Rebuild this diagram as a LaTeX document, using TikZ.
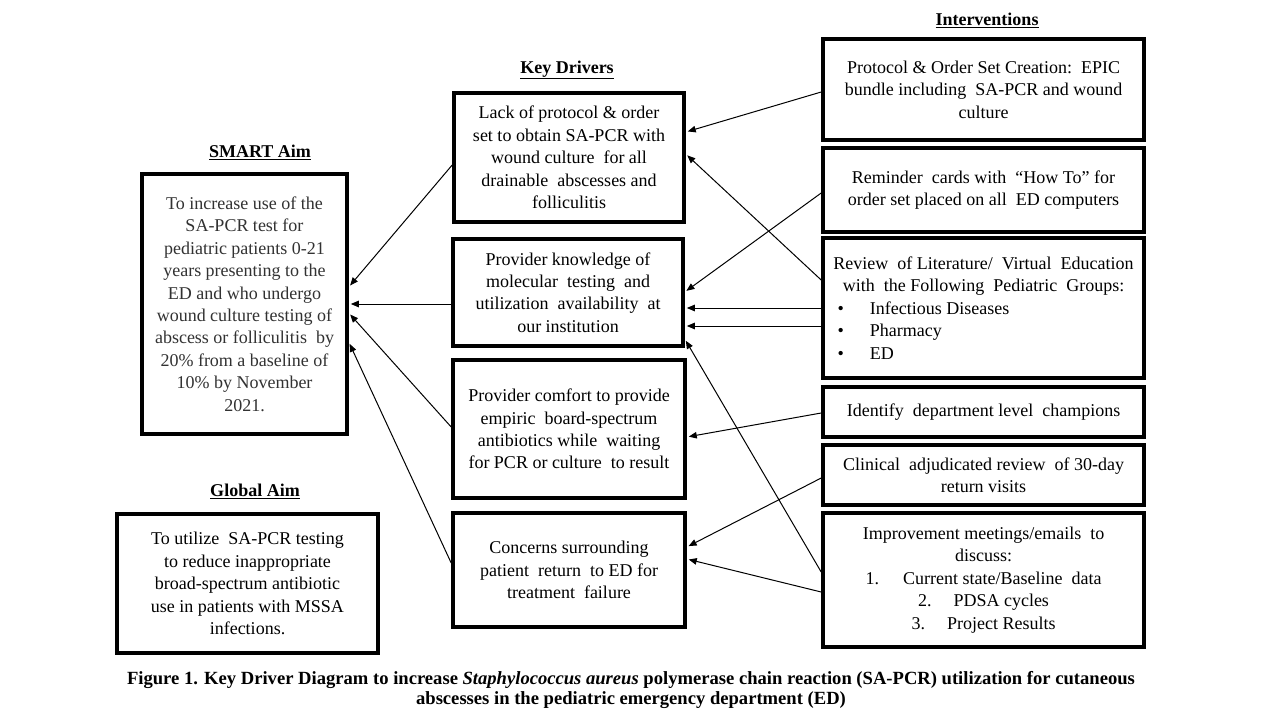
\documentclass[tikz,border=0pt]{standalone}
\usepackage{fontspec}
\setmainfont{Liberation Serif}
\usetikzlibrary{arrows.meta}
\definecolor{aimgray}{RGB}{50,50,50}
\tikzset{
  box/.style={draw, line width=3.6pt, align=center, inner sep=0pt,
    font=\fontsize{18}{22.4}\selectfont},
  head/.style={font=\fontsize{18}{22}\selectfont\bfseries, inner sep=0pt},
  arr/.style={line width=1pt, -{Triangle[length=8pt,width=6.5pt]}, shorten >=2pt}
}
\begin{document}
\begin{tikzpicture}[x=1pt,y=-1pt]
\useasboundingbox[fill=white] (0,0) rectangle (1280,720);

% headings
\node[head] (hint) at (987,20) {\underline{Interventions}};
\node[head] (hkd) at (567,70) {\underline{Key Drivers}};
\node[head] (hsm) at (260,152) {\underline{SMART Aim}};
\node[head] (hgl) at (255,491) {\underline{Global Aim}};

% aims
\node[box, minimum width=205pt, minimum height=260pt, text=aimgray] (smart) at (244.5,304)
 {To increase use of the\\ SA-PCR test for\\ pediatric patients 0-21\\ years presenting to the\\ ED and who undergo\\ wound culture testing of\\ abscess or folliculitis\ \ by\\ 20\% from a baseline of\\ 10\% by November\\ 2021.};
\node[box, minimum width=261pt, minimum height=139pt] (global) at (247.5,583.5)
 {To utilize\ \ SA-PCR testing\\ to reduce inappropriate\\ broad-spectrum antibiotic\\ use in patients with MSSA\\ infections.};

% key drivers
\node[box, minimum width=230pt, minimum height=129pt] (kd1) at (569,157.5)
 {Lack of protocol \& order\\ set to obtain SA-PCR with\\ wound culture\ \ for all\\ drainable\ \ abscesses and\\ folliculitis};
\node[box, minimum width=230pt, minimum height=107pt] (kd2) at (568,292.5)
 {Provider knowledge of\\ molecular\ \ testing\ \ and\\ utilization\ \ availability\ \ at\\ our institution};
\node[box, minimum width=232pt, minimum height=138pt] (kd3) at (569,429)
 {Provider comfort to provide\\ empiric\ \ board-spectrum\\ antibiotics while\ \ waiting\\ for PCR or culture\ \ to result};
\node[box, minimum width=232pt, minimum height=114pt] (kd4) at (569,570)
 {Concerns surrounding\\ patient\ \ return\ \ to ED for\\ treatment\ \ failure};

% interventions
\node[box, minimum width=321pt, minimum height=101pt] (int1) at (983.5,89.5)
 {Protocol \& Order Set Creation:\ \ EPIC\\ bundle including\ \ SA-PCR and wound\\ culture};
\node[box, minimum width=321pt, minimum height=84pt] (int2) at (983.5,190)
 {Reminder\ \ cards with\ \ “How To” for\\ order set placed on all\ \ ED computers};
\node[box, minimum width=321pt, minimum height=140pt] (int3) at (983.5,308)
 {Review\ \ of Literature/\ \ Virtual\ \ Education\\ with\ \ the Following\ \ Pediatric\ \ Groups:\\
  \makebox[300pt][l]{\hspace{4pt}•\hspace{26pt}Infectious Diseases}\\
  \makebox[300pt][l]{\hspace{4pt}•\hspace{26pt}Pharmacy}\\
  \makebox[300pt][l]{\hspace{4pt}•\hspace{26pt}ED}};
\node[box, minimum width=321pt, minimum height=50pt] (int4) at (983.5,412)
 {Identify\ \ department level\ \ champions};
\node[box, minimum width=321pt, minimum height=60pt] (int5) at (983.5,475)
 {Clinical\ \ adjudicated review\ \ of 30-day\\ return visits};
\node[box, minimum width=321pt, minimum height=134pt] (int6) at (983.5,580)
 {Improvement meetings/emails\ \ to\\ discuss:\\ 1.\hspace{24pt}Current state/Baseline\ \ data\\ 2.\hspace{22pt}PDSA cycles\\ 3.\hspace{22pt}Project Results};

% interventions -> key drivers
\draw[arr] (int1.west |- 0,92) -- (kd1.east |- 0,132);
\draw[arr] (int3.west |- 0,280) -- (kd1.east |- 0,154);
\draw[arr] (int2.west |- 0,193) -- (kd2.east |- 0,292);
\draw[arr] (int3.west |- 0,308) -- (kd2.east |- 0,308);
\draw[arr] (int3.west |- 0,326) -- (kd2.east |- 0,326);
\draw[arr] (int6.west |- 0,572) -- (kd2.east |- 0,339);
\draw[arr] (int4.west |- 0,413) -- (kd3.east |- 0,437);
\draw[arr] (int5.west |- 0,478) -- (kd4.east |- 0,547);
\draw[arr] (int6.west |- 0,592) -- (kd4.east |- 0,559);

% key drivers -> SMART aim
\draw[arr] (kd1.west |- 0,165) -- (smart.east |- 0,287);
\draw[arr] (kd2.west |- 0,304) -- (smart.east |- 0,304);
\draw[arr] (kd3.west |- 0,427) -- (smart.east |- 0,313);
\draw[arr] (kd4.west |- 0,563) -- (smart.east |- 0,342);

% caption
\node[align=center, inner sep=0pt, font=\fontsize{18.6}{20}\selectfont\bfseries] (cap) at (631,690)
 {Figure 1. Key Driver Diagram to increase \textit{Staphylococcus aureus} polymerase chain reaction (SA-PCR) utilization for cutaneous\\ abscesses in the pediatric emergency department (ED)};
\end{tikzpicture}
\end{document}
